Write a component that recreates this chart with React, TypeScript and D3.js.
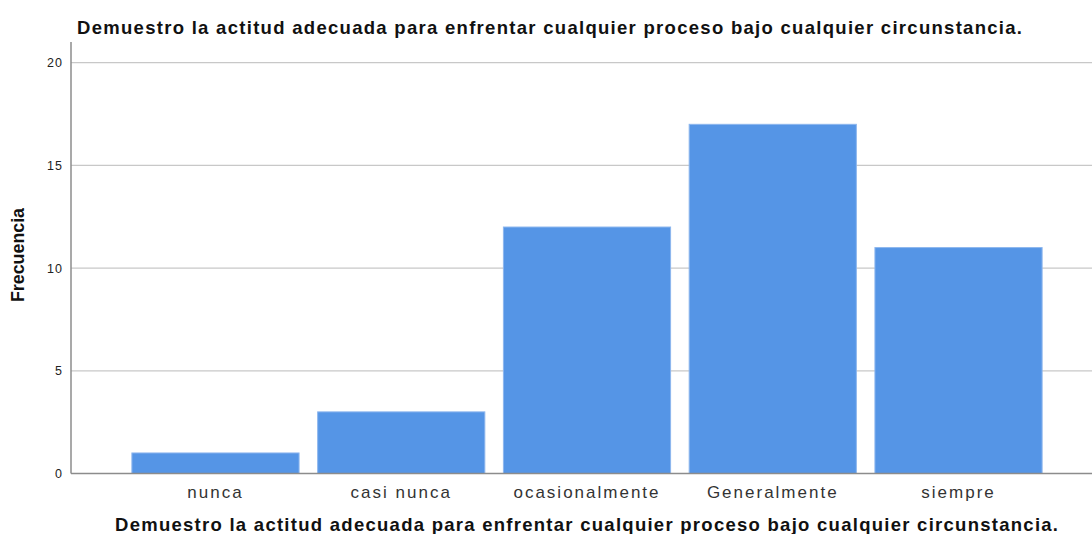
import React from "react";
import * as d3 from "d3";

const categories = ["nunca", "casi nunca", "ocasionalmente", "Generalmente", "siempre"];
const frequencies = [1, 3, 12, 17, 11];
const yTicks = [0, 5, 10, 15, 20];
const title = "Demuestro la actitud adecuada para enfrentar cualquier proceso bajo cualquier circunstancia.";
const xTitle = "Demuestro la actitud adecuada para enfrentar cualquier proceso bajo cualquier circunstancia.";
const yTitle = "Frecuencia";

const W = 1092;
const H = 534;

export default function App() {
  const plotLeft = 71;
  const plotRight = W;
  const plotTop = 42;
  const y = d3.scaleLinear().domain([0, 20]).range([473.5, 62.7]);
  const x = d3
    .scaleBand<string>()
    .domain(categories)
    .range([122.6, 1051.4])
    .paddingInner(0.1)
    .paddingOuter(0.05);

  const font = "'Liberation Sans', Arial, sans-serif";

  return (
    <svg
      width={W}
      height={H}
      style={{ position: "absolute", left: 0, top: 0, display: "block", background: "#fff" }}
      fontFamily={font}
    >
      <rect x={0} y={0} width={W} height={H} fill="#fff" />
      {yTicks.filter((t) => t > 0).map((t) => (
        <line key={t} x1={plotLeft} x2={plotRight} y1={y(t)} y2={y(t)} stroke="#c8c8c8" strokeWidth={1.2} />
      ))}
      {categories.map((c, i) => (
        <rect
          key={c}
          x={x(c)!}
          y={y(frequencies[i])}
          width={x.bandwidth()}
          height={y(0) - y(frequencies[i])}
          fill="#5595e6"
          stroke="#8db6ee"
          strokeWidth={1}
        />
      ))}
      <line x1={plotLeft} x2={plotLeft} y1={plotTop} y2={y(0)} stroke="#8c8c8c" strokeWidth={1.5} />
      <line x1={plotLeft} x2={plotRight} y1={y(0)} y2={y(0)} stroke="#8c8c8c" strokeWidth={1.5} />
      {yTicks.map((t) => (
        <text key={t} x={63} y={y(t) + 4.5} textAnchor="end" fontSize={12.5} letterSpacing={1} fill="#222">
          {t}
        </text>
      ))}
      {categories.map((c) => (
        <text
          key={c}
          x={x(c)! + x.bandwidth() / 2}
          y={498}
          textAnchor="middle"
          fontSize={17}
          letterSpacing={2}
          fill="#333"
        >
          {c}
        </text>
      ))}
      <text x={77} y={34} fontSize={18.5} fontWeight="bold" fill="#111" textLength={945} lengthAdjust="spacing">
        {title}
      </text>
      <text x={115} y={531} fontSize={18.5} fontWeight="bold" fill="#111" textLength={943} lengthAdjust="spacing">
        {xTitle}
      </text>
      <text
        transform={`translate(24,255) rotate(-90)`}
        textAnchor="middle"
        fontSize={19}
        fontWeight="bold"
        fill="#111"
        textLength={94}
        lengthAdjust="spacingAndGlyphs"
      >
        {yTitle}
      </text>
    </svg>
  );
}
